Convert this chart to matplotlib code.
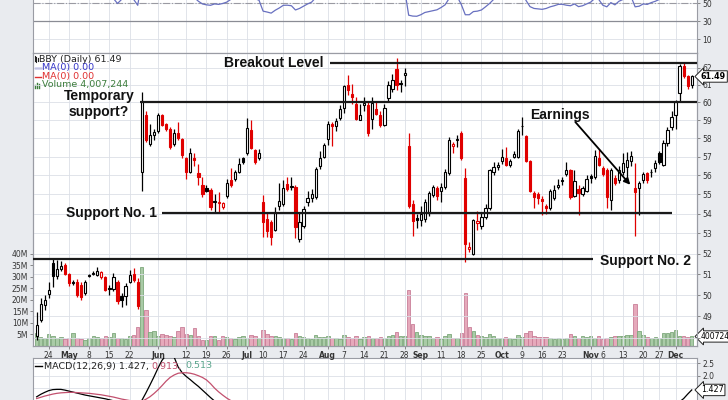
import matplotlib.pyplot as plt
from matplotlib.transforms import blended_transform_factory
from matplotlib.lines import Line2D

# BBY daily, trading-day index (0 = Mon 24 Apr 2017)
first_day = -3

opens = [
    48.1, 48.85, 49.55, 50.05, 51.55, 50.9, 51.25, 51.45, 51.0, 50.62,
    50.6, 50.5, 50.1, 50.9, 51.0, 50.95, 50.85, 50.85, 50.35, 50.3,
    50.6, 49.95, 49.95, 50.6, 51.0, 50.6, 56.2, 59.3, 57.7, 58.2,
    58.4, 59.3, 58.8, 58.5, 57.7, 58.3, 57.95, 56.95, 56.15, 56.9,
    56.1, 55.5, 55.35, 55.25, 54.6, 54.55, 54.35, 54.9, 55.75, 55.8,
    56.2, 56.95, 57.2, 58.45, 57.35, 56.9, 54.6, 53.75, 53.6, 53.15,
    54.4, 54.5, 55.55, 55.38, 55.4, 52.7, 53.4, 54.6, 54.8, 54.85,
    56.5, 57.0, 57.95, 58.8, 58.67, 59.1, 59.7, 61.0, 60.5, 59.9,
    59.03, 59.85, 59.85, 59.05, 59.65, 59.3, 58.75, 60.25, 60.75, 61.9,
    61.1, 61.6, 57.55, 54.5, 53.8, 53.7, 53.75, 54.05, 54.95, 55.35,
    55.2, 55.4, 56.1, 57.55, 57.9, 58.3, 55.85, 52.25, 52.0, 53.55,
    53.4, 53.85, 54.3, 56.15, 56.45, 56.75, 56.95, 56.55, 57.0, 57.0,
    58.65, 58.1, 56.75, 55.05, 55.0, 54.75, 54.4, 54.3, 54.8, 55.4,
    55.75, 56.05, 56.3, 54.9, 55.3, 55.0, 55.2, 55.95, 55.9, 56.9,
    56.4, 56.3, 54.7, 55.85, 55.75, 56.2, 56.45, 56.75, 55.35, 55.35,
    55.75, 56.1, 56.15, 56.4, 57.2, 56.57, 57.76, 58.6, 59.3, 60.55,
    62.1, 61.5, 61.0,
]
highs = [
    49.2, 49.85, 50.0, 50.6, 51.75, 51.7, 51.65, 51.55, 51.05, 50.7,
    50.75, 50.6, 50.7, 51.0, 51.15, 51.35, 51.15, 50.9, 50.5, 51.05,
    50.7, 50.1, 50.55, 51.2, 51.3, 50.8, 60.6, 59.5, 58.8, 58.5,
    59.4, 59.35, 58.85, 58.6, 58.5, 58.9, 58.0, 57.0, 57.45, 57.2,
    56.6, 55.9, 55.5, 55.35, 55.0, 55.1, 54.6, 55.8, 56.4, 56.3,
    56.9, 57.0, 59.1, 59.0, 57.4, 57.4, 54.95, 54.05, 53.7, 54.35,
    55.6, 55.75, 55.9, 55.9, 55.5, 54.1, 54.4, 55.2, 55.3, 56.45,
    57.3, 57.75, 58.95, 58.9, 59.1, 59.85, 61.0, 61.6, 61.05, 60.3,
    59.9, 60.3, 60.1, 60.3, 60.1, 59.5, 59.9, 61.2, 61.65, 62.55,
    61.3, 62.0, 58.3, 54.7, 54.0, 54.4, 54.75, 55.2, 55.5, 55.45,
    55.6, 56.35, 58.05, 57.8, 58.2, 58.4, 56.4, 52.55, 53.75, 54.15,
    54.1, 54.5, 56.35, 56.7, 56.7, 57.4, 57.5, 56.85, 57.3, 58.5,
    59.2, 58.2, 56.8, 55.2, 55.1, 54.9, 54.5, 55.3, 55.5, 55.8,
    55.9, 56.7, 56.35, 56.3, 55.5, 55.45, 56.0, 56.05, 57.35, 57.4,
    56.5, 56.4, 56.4, 56.0, 56.5, 57.2, 57.25, 57.3, 56.65, 55.7,
    56.2, 56.2, 56.35, 56.8, 57.3, 57.9, 58.6, 59.5, 60.15, 62.2,
    62.3, 61.6, 61.55,
]
lows = [
    47.9, 48.75, 49.3, 49.85, 50.4, 50.75, 51.15, 50.95, 50.45, 50.5,
    49.9, 49.75, 50.0, 50.85, 50.95, 50.9, 50.75, 50.2, 50.0, 50.2,
    49.6, 49.45, 49.55, 50.55, 50.6, 49.35, 55.2, 57.8, 57.6, 57.9,
    58.3, 58.7, 58.4, 57.4, 57.6, 57.9, 56.9, 55.8, 56.1, 56.5,
    55.5, 54.85, 55.1, 54.2, 54.1, 54.05, 54.25, 54.8, 55.4, 55.7,
    56.1, 56.6, 57.1, 57.4, 56.6, 56.8, 52.8, 52.8, 52.45, 53.1,
    54.2, 54.4, 55.2, 55.25, 52.75, 52.55, 53.3, 54.4, 54.6, 54.75,
    56.35, 56.9, 57.65, 57.6, 58.4, 59.0, 59.4, 60.45, 59.9, 59.0,
    59.0, 59.5, 58.1, 58.5, 59.3, 58.6, 58.7, 60.0, 60.6, 60.7,
    60.6, 60.95, 54.3, 52.85, 53.3, 53.4, 53.6, 53.9, 54.85, 54.7,
    54.6, 55.3, 56.0, 57.2, 57.5, 56.8, 51.6, 52.1, 51.95, 53.2,
    53.25, 53.75, 54.2, 56.0, 56.3, 56.6, 56.5, 56.45, 56.9, 56.95,
    58.2, 56.7, 55.1, 54.3, 54.5, 53.95, 54.0, 54.2, 54.7, 55.3,
    55.5, 55.95, 54.75, 54.85, 53.95, 54.9, 55.1, 55.6, 55.8, 56.5,
    55.95, 54.3, 54.2, 55.5, 55.6, 56.0, 55.9, 56.5, 52.85, 53.96,
    55.6, 55.6, 55.9, 56.2, 56.6, 56.5, 57.6, 58.45, 58.5, 60.1,
    61.4, 60.75, 60.85,
]
closes = [
    48.6, 49.6, 49.75, 50.25, 50.9, 51.25, 51.4, 51.0, 50.55, 50.58,
    50.0, 49.9, 50.6, 50.95, 51.05, 51.15, 51.1, 50.25, 50.28, 50.85,
    49.7, 49.75, 50.45, 50.95, 50.7, 49.5, 60.1, 57.9, 58.2, 58.35,
    59.3, 58.75, 58.5, 57.5, 58.3, 58.0, 57.1, 56.15, 57.2, 56.8,
    55.9, 55.0, 55.2, 54.35, 54.65, 54.6, 54.55, 55.6, 55.5, 56.15,
    56.6, 56.7, 58.55, 57.45, 56.7, 57.2, 53.6, 53.1, 52.8, 54.05,
    54.65, 55.35, 55.3, 55.42, 53.35, 53.6, 54.25, 54.8, 55.0, 56.35,
    56.95, 57.65, 58.8, 58.65, 58.97, 59.6, 60.95, 60.7, 60.3, 59.05,
    59.3, 59.95, 58.3, 59.95, 59.35, 58.75, 59.7, 61.0, 61.3, 61.0,
    61.05, 61.7, 54.4, 53.65, 53.68, 54.0, 54.6, 55.05, 55.4, 54.9,
    55.4, 56.2, 57.9, 57.7, 57.95, 56.9, 52.5, 52.35, 53.7, 53.65,
    53.85, 54.3, 56.3, 56.45, 56.55, 57.0, 56.55, 56.75, 57.15, 58.4,
    58.7, 56.75, 55.2, 54.85, 54.8, 54.65, 54.3, 55.2, 55.25, 55.5,
    55.7, 56.3, 54.85, 55.7, 55.05, 55.35, 55.8, 55.85, 57.05, 56.55,
    56.05, 54.85, 56.3, 55.6, 56.3, 56.65, 56.8, 57.05, 55.1, 55.6,
    56.05, 55.75, 56.2, 56.68, 56.7, 57.76, 58.48, 59.2, 60.05, 62.1,
    61.5, 60.92, 61.49,
]
volume_m = [
    5.4, 3.8, 3.2, 5.0, 4.2, 3.4, 3.6, 3.0, 3.2, 5.6,
    3.4, 3.0, 2.6, 3.2, 4.0, 3.6, 3.2, 4.4, 3.6, 5.4,
    3.2, 3.4, 3.0, 4.2, 4.6, 8.2, 34.0, 15.5, 5.8, 6.2,
    4.0, 4.9, 4.5, 4.2, 3.8, 6.2, 8.2, 5.0, 4.6, 7.7,
    4.0, 2.4, 2.6, 4.2, 4.0, 2.4, 4.2, 3.8, 3.4, 3.0,
    3.6, 4.0, 3.4, 4.8, 4.0, 3.2, 6.8, 5.2, 4.4, 4.2,
    3.8, 3.2, 3.4, 3.0, 5.6, 4.2, 3.6, 3.4, 3.0, 4.8,
    3.6, 3.8, 4.4, 3.4, 3.2, 3.0, 4.8, 3.6, 3.4, 4.2,
    3.0, 3.6, 4.4, 3.4, 3.2, 3.8, 3.4, 4.4, 4.8, 5.8,
    4.2, 4.0, 24.0, 9.5, 6.0, 4.6, 4.2, 4.0, 3.2, 3.6,
    3.0, 4.4, 5.0, 3.4, 3.2, 5.6, 23.0, 8.0, 6.4, 4.6,
    4.0, 3.6, 5.2, 4.0, 3.2, 3.4, 3.6, 3.2, 2.8, 4.8,
    3.6, 5.4, 6.2, 4.2, 3.6, 3.8, 3.6, 3.4, 3.0, 3.2,
    2.8, 3.2, 5.0, 4.0, 3.2, 4.2, 3.8, 4.4, 3.4, 4.0,
    3.0, 3.2, 3.6, 4.4, 4.4, 4.4, 4.6, 4.6, 18.0, 6.2,
    4.8, 3.8, 3.2, 3.8, 3.2, 5.6, 5.6, 6.0, 7.0, 4.0,
    4.0, 3.6, 4.007,
]
rsi = [
    60, 63, 65, 67, 70, 68, 66, 62, 58, 57, 56, 58, 60, 59, 60, 58, 57, 59, 56, 55,
    49.5, 54, 55, 57, 54, 47.5,
    75, 70, 71, 71, 74, 70, 68, 62, 64, 63, 57, 54, 58, 56,
    52, 49, 48, 47.5, 49, 48.5, 49.5, 51, 54,
    56, 58, 59, 63, 58, 55,
    53, 41, 40, 38.8, 42, 44.5, 47.5, 47.6, 47, 42.3, 44, 46.5, 49, 51, 56,
    59, 62, 65, 64, 66, 68, 72, 69, 66, 60, 61, 63, 57, 61, 59, 56, 60, 66, 68, 64, 64, 65,
    36.5, 35.5, 35.3, 37, 39.5, 40.5, 41.5, 42.5, 45, 48, 55,
    56, 57, 48.5,
    37, 37, 40.5, 41, 42.3, 45.8, 49.5, 54,
    56, 58, 57, 57.5, 59, 63, 64, 53,
    46, 44, 43.5, 43, 44, 45.8, 47, 48.5, 48.6, 47.6, 47, 49, 46, 47, 49, 51, 55,
    54, 47.6, 45.8, 50.5, 48, 52, 54, 55, 57,
    45.8, 46.5, 49, 48.5, 50.5, 52, 54, 58, 62, 66, 69, 76, 72, 66, 67,
]
macd_days_a = list(range(-3, 43))
macd_a = [
    1.15, 1.25, 1.33, 1.4, 1.44, 1.45, 1.45, 1.42, 1.38, 1.34,
    1.3, 1.26, 1.22, 1.19, 1.16, 1.13, 1.1, 1.07, 1.03, 0.99,
    0.95, 0.92, 0.9, 0.88, 0.87, 0.85, 1.0, 1.3, 1.62, 1.95,
    2.3, 2.62, 2.82, 2.9, 2.75, 2.35, 2.12, 1.97, 1.84, 1.7,
    1.57, 1.42, 1.27, 1.12, 0.98, 0.88,
]
macd_days_b = [154, 155, 156, 157, 158, 159]
macd_b = [0.7, 0.8, 0.95, 1.08, 1.26, 1.427]
signal_days = list(range(-3, 47))
signal = [
    1.08, 1.13, 1.18, 1.22, 1.26, 1.29, 1.31, 1.32, 1.33, 1.33,
    1.32, 1.31, 1.3, 1.29, 1.27, 1.25, 1.23, 1.2, 1.17, 1.14,
    1.1, 1.06, 1.03, 1.0, 0.97, 0.95, 0.97, 1.05, 1.15, 1.28,
    1.43, 1.6, 1.78, 1.93, 2.03, 2.1, 2.12, 2.12, 2.1, 2.06,
    2.0, 1.93, 1.83, 1.68, 1.5, 1.35, 1.22, 1.1, 1.0, 0.92,
]
tick_days = [0, 5, 10, 15, 20, 27, 34, 39, 44, 49, 53, 58, 63, 69, 73, 78,
             83, 88, 92, 97, 102, 107, 112, 117, 122, 127, 134, 137, 142,
             147, 151, 155]
tick_labels = ['24', 'May', '8', '15', '22', 'Jun', '12', '19', '26', 'Jul',
               '10', '17', '24', 'Aug', '7', '14', '21', '28', 'Sep', '11',
               '18', '25', 'Oct', '9', '16', '23', 'Nov', '6', '13', '20',
               '27', 'Dec']
months = ['May', 'Jun', 'Jul', 'Aug', 'Sep', 'Oct', 'Nov', 'Dec']

days = list(range(first_day, first_day + len(closes)))

W, H = 728, 400
fig = plt.figure(figsize=(7.28, 4.0), dpi=100, facecolor='#e9ebef')
L, R = 33, 697
ax_rsi = fig.add_axes([L / W, 1 - 52.7 / H, (R - L) / W, 62.7 / H])
ax = fig.add_axes([L / W, 1 - 345.7 / H, (R - L) / W, 293 / H])
ax_macd = fig.add_axes([L / W, 1 - 440 / H, (R - L) / W, 82.3 / H])

grid_c = '#dcdfe6'
spine_c = '#9a9ca4'
lab_c = '#333333'
xlim = (-3.9, 160.3)

# ---- volume (behind candles) ----
ax_vol = ax.twinx()
ax.yaxis.tick_right()
ax_vol.yaxis.tick_left()
ax_vol.set_zorder(1)
ax.set_zorder(2)
ax.patch.set_visible(False)
ax_vol.patch.set_visible(True)
ax_vol.patch.set_facecolor('white')
vol_face, vol_edge = [], []
for i, c in enumerate(closes):
    up = i == 0 or c >= closes[i - 1]
    vol_face.append('#a9cba6' if up else '#e6a9bb')
    vol_edge.append('#7ea87b' if up else '#c97f98')
ax_vol.bar(days, volume_m, width=0.85, color=vol_face, edgecolor=vol_edge,
           linewidth=0.6)
ax_vol.set_ylim(0, 127.2)
ax_vol.set_yticks(range(5, 45, 5))
ax_vol.set_yticklabels([f'{v}M' for v in range(5, 45, 5)])
ax_vol.tick_params(axis='y', labelsize=5.5, labelcolor=lab_c, length=2.5,
                   width=0.6, color='#777777', pad=1)

# ---- candles ----
for i, (d, o, h, l, c) in enumerate(zip(days, opens, highs, lows, closes)):
    up = i == 0 or c >= closes[i - 1]
    col = '#000000' if up else '#e00000'
    ax.vlines(d, l, h, color=col, lw=0.9, zorder=3)
    lo, hi = min(o, c), max(o, c)
    if hi - lo < 0.04:
        hi = lo + 0.04
    face = 'white' if c > o else col
    ax.bar(d, hi - lo, bottom=lo, width=0.55, color=face, edgecolor=col,
           linewidth=0.8, zorder=4)

ax.set_yscale('log')
ax.set_ylim(47.66, 62.89)
ax.set_xlim(*xlim)
ax.yaxis.set_major_locator(plt.FixedLocator(list(range(48, 63))))
ax.yaxis.set_minor_locator(plt.NullLocator())
ax.yaxis.set_major_formatter(
    plt.FuncFormatter(lambda v, p: '' if v < 48.5 else f'{v:.0f}'))
ax.yaxis.set_minor_formatter(plt.NullFormatter())
ax.tick_params(axis='y', labelsize=5.5, labelcolor=lab_c, length=2.5,
               width=0.6, color='#777777', pad=1.5)
ax.set_xticks(tick_days)
ax.set_xticklabels(tick_labels)
ax.tick_params(axis='x', labelsize=5.5, labelcolor=lab_c, length=2,
               width=0.6, color='#777777', pad=1.5)
for t in ax.get_xticklabels():
    if t.get_text() in months:
        t.set_fontweight('bold')
ax.grid(True, color=grid_c, lw=0.6, zorder=0)

# support / resistance lines
lw_sr = 1.6
ax.plot([69.6, xlim[1]], [62.3, 62.3], color='#1a1a1a', lw=lw_sr, zorder=5,
        solid_capstyle='butt')
ax.plot([22.6, xlim[1]], [60.0, 60.0], color='#1a1a1a', lw=lw_sr, zorder=5,
        solid_capstyle='butt')
ax.plot([28.0, 154.1], [54.03, 54.03], color='#1a1a1a', lw=lw_sr, zorder=5,
        solid_capstyle='butt')
ax.plot([xlim[0], 134.6], [51.72, 51.72], color='#1a1a1a', lw=lw_sr, zorder=5,
        solid_capstyle='butt')
ax.annotate('', xy=(143.8, 55.5), xytext=(130.2, 58.9), zorder=6,
            arrowprops=dict(arrowstyle='-|>', color='black', lw=1.3,
                            mutation_scale=9, shrinkA=0, shrinkB=0))


def ftext(px, py, s, **kw):
    return fig.text(px / W, 1 - py / H, s, **kw)


ann = dict(fontsize=10, fontweight='bold', family='Liberation Sans',
           color='#111111', ha='center', va='center')
ftext(274, 63, 'Breakout Level', **ann)
ftext(99, 104, 'Temporary\nsupport?', linespacing=1.15, **ann)
ftext(112, 213, 'Support No. 1', **ann)
ftext(645, 261, 'Support No. 2', **ann)
ftext(560, 115, 'Earnings', **ann)

# legend lines, top-left of price panel
leg = dict(fontsize=6.8, ha='left', va='center')
ftext(39, 59, 'BBY (Daily) 61.49', color='#222222', **leg)
ftext(41.5, 67.5, 'MA(0) 0.00', color='#3434c8', **leg)
ftext(41.5, 76.5, 'MA(0) 0.00', color='#e03030', **leg)
ftext(41.5, 85, 'Volume 4,007,244', color='#3c7d3c', **leg)
for py, c in [(67.5, '#3434c8'), (76.5, '#e03030')]:
    fig.add_artist(Line2D([34.5 / W, 40.5 / W], [1 - py / H] * 2, color=c,
                          lw=1.0))
for k, hh in enumerate([3, 5, 4]):
    fig.add_artist(Line2D([(35 + 2 * k) / W] * 2,
                          [1 - 88 / H, 1 - (88 - hh) / H],
                          color='#3c7d3c', lw=1.0))
for k, (a, b) in enumerate([(61, 56), (62, 57), (61, 58)]):
    fig.add_artist(Line2D([(34.5 + 1.5 * k) / W] * 2, [1 - a / H, 1 - b / H],
                          color='#222222', lw=0.8))

# value boxes on right axis
box = dict(boxstyle='larrow,pad=0.15', fc='white', ec='#222222', lw=0.7)
tr = blended_transform_factory(ax.transAxes, ax.transData)
ax.text(1.006, 61.49, '61.49', transform=tr, fontsize=5.8, fontweight='bold',
        va='center', ha='left', bbox=box, clip_on=False, zorder=20)
trv = blended_transform_factory(ax_vol.transAxes, ax_vol.transData)
ax_vol.text(1.006, 4.007, '4007244', transform=trv, fontsize=5.5,
            va='center', ha='left', bbox=box, clip_on=False, zorder=20)

# ---- RSI panel ----
ax_rsi.plot(days, rsi, color='#6870c0', lw=0.9, zorder=3)
ax_rsi.set_ylim(-5.2, 64.5)
ax_rsi.set_xlim(*xlim)
ax_rsi.axhline(50, color='#9a9aa2', lw=0.8, ls='-.', zorder=2)
ax_rsi.axhline(30, color='#8a8c94', lw=0.9, zorder=2)
ax_rsi.axhline(70, color='#8a8c94', lw=0.9, zorder=2)
ax_rsi.set_yticks([10, 30, 50])
ax_rsi.yaxis.tick_right()
ax_rsi.tick_params(axis='y', labelsize=5.5, labelcolor=lab_c, length=2.5,
                   width=0.6, color='#777777', pad=1.5)
ax_rsi.set_xticks(tick_days)
ax_rsi.tick_params(axis='x', length=0, labelbottom=False)
ax_rsi.grid(True, color=grid_c, lw=0.6, zorder=0)

# ---- MACD panel ----
ax_macd.plot(macd_days_a, macd_a, color='black', lw=0.9, zorder=3)
ax_macd.plot(macd_days_b, macd_b, color='black', lw=0.9, zorder=3)
ax_macd.plot(signal_days, signal, color='#c2506e', lw=0.9, zorder=3)
ax_macd.set_ylim(-0.59, 2.726)
ax_macd.set_xlim(*xlim)
ax_macd.set_yticks([1.0, 1.5, 2.0, 2.5])
ax_macd.set_yticklabels(['', '', '2.0', '2.5'])
ax_macd.yaxis.tick_right()
ax_macd.tick_params(axis='y', labelsize=5.5, labelcolor=lab_c, length=2.5,
                    width=0.6, color='#777777', pad=1.5)
ax_macd.set_xticks(tick_days)
ax_macd.tick_params(axis='x', length=0, labelbottom=False)
ax_macd.grid(True, color=grid_c, lw=0.6, zorder=0)
trm = blended_transform_factory(ax_macd.transAxes, ax_macd.transData)
ax_macd.text(1.006, 1.427, '1.427', transform=trm, fontsize=5.8,
             va='center', ha='left', bbox=box, clip_on=False, zorder=20)
fig.add_artist(Line2D([35 / W, 41.5 / W], [1 - 366 / H] * 2, color='black',
                      lw=1.0))

# MACD legend pieces placed one after another
renderer = fig.canvas.get_renderer()
px = 44
for s, c in [('MACD(12,26,9) 1.427,', '#222222'), ('0.913,', '#c2506e'),
             ('0.513', '#5aa58c')]:
    t = ftext(px, 366, s, color=c, **leg)
    px = t.get_window_extent(renderer).x1 + 3

for a in (ax, ax_vol, ax_rsi, ax_macd):
    for s in a.spines.values():
        s.set_color(spine_c)
        s.set_linewidth(0.8)

fig.savefig('out.png', dpi=100, facecolor=fig.get_facecolor())
